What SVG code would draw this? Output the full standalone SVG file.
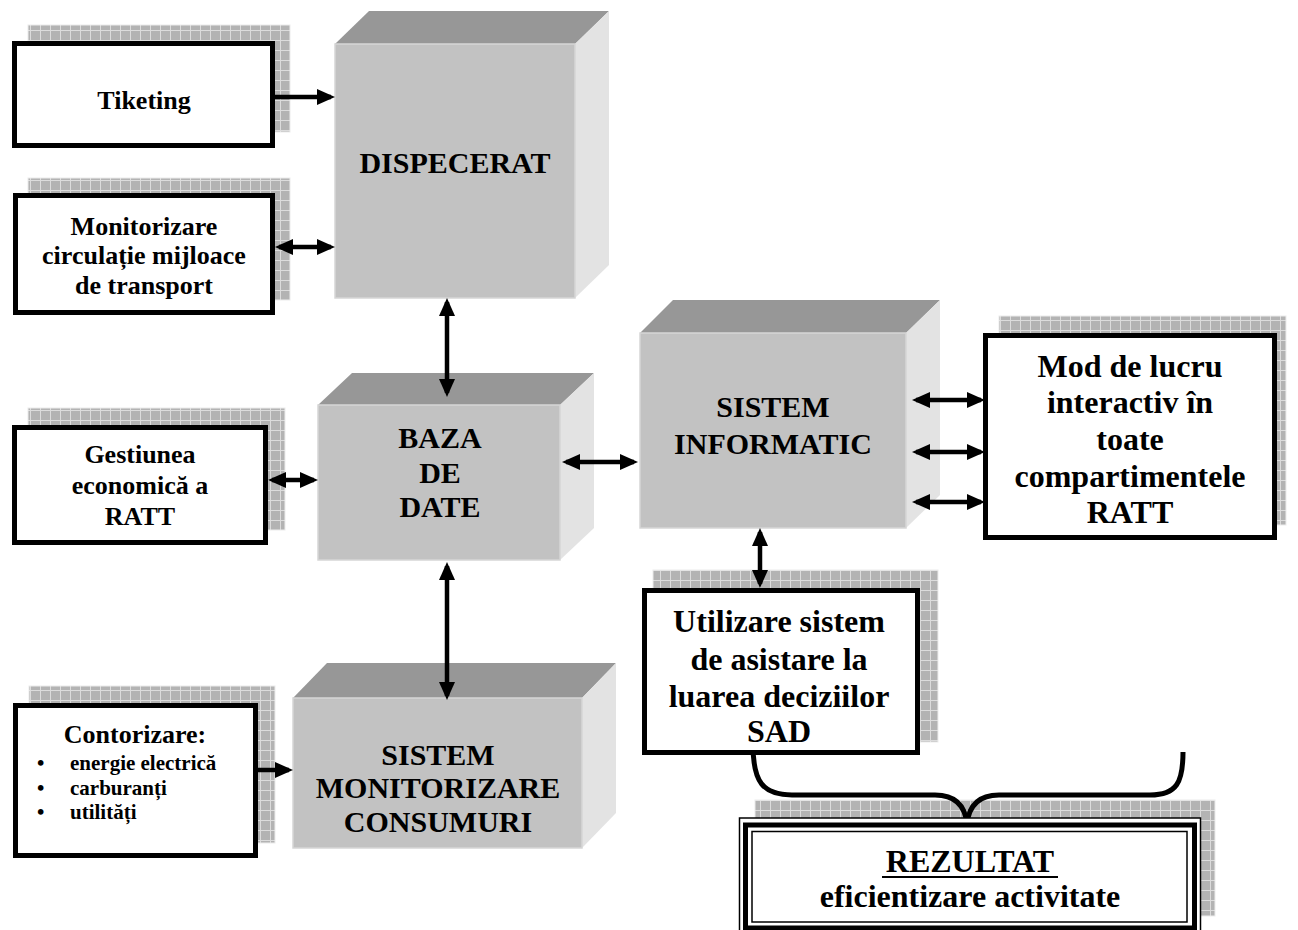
<svg xmlns="http://www.w3.org/2000/svg" width="1298" height="930" viewBox="0 0 1298 930">
  <defs>
    <pattern id="grid" width="10" height="10" patternUnits="userSpaceOnUse">
      <rect width="10" height="10" fill="#b3b3b3"/>
      <path d="M0,0.5 H10 M0.5,0 V10" stroke="#dcdcdc" stroke-width="1"/>
    </pattern>
    <marker id="head" markerUnits="userSpaceOnUse" markerWidth="20" markerHeight="18" refX="14" refY="8" orient="auto-start-reverse">
      <path d="M0,0 L18,8 L0,16 z" fill="#000"/>
    </marker>
    <style>
      .box { fill:#fff; stroke:#000; stroke-width:5; }
      .sh { fill:url(#grid); stroke:#ececec; stroke-width:1; }
      .front { fill:#c2c2c2; stroke:#d6d6d6; stroke-width:1.5; }
      .top { fill:#979797; }
      .side { fill:#e3e3e3; }
      .t { font-family:"Liberation Serif","Times New Roman",serif; font-weight:bold; text-anchor:middle; fill:#000; }
      .s26 { font-size:26px; }
      .s30 { font-size:30px; }
      .s32 { font-size:32px; }
      .s21 { font-size:21px; text-anchor:start; }
      .ar { stroke:#000; stroke-width:4.5; fill:none; }
      .one { marker-end:url(#head); }
      .two { marker-start:url(#head); marker-end:url(#head); }
    </style>
  </defs>

  <!-- Tiketing -->
  <g id="tiketing">
    <rect class="sh" x="28" y="25" width="262" height="107"/>
    <rect class="box" x="14.5" y="43.5" width="258" height="102"/>
    <text class="t s26" x="144" y="109">Tiketing</text>
  </g>

  <!-- Monitorizare circulatie -->
  <g id="monitorizare">
    <rect class="sh" x="28" y="178" width="262" height="122"/>
    <rect class="box" x="15.5" y="195.5" width="257" height="117"/>
    <text class="t s26" x="144" y="235">Monitorizare</text>
    <text class="t s26" x="144" y="264">circulație mijloace</text>
    <text class="t s26" x="144" y="294">de transport</text>
  </g>

  <!-- DISPECERAT cube -->
  <g id="dispecerat">
    <polygon class="top" points="335,44 369,11 609,11 575,44"/>
    <polygon class="side" points="575,44 609,11 609,265 575,298"/>
    <rect class="front" x="335" y="44" width="240" height="254"/>
    <text class="t s30" x="455" y="173">DISPECERAT</text>
  </g>

  <!-- Gestiunea economica -->
  <g id="gestiunea">
    <rect class="sh" x="28" y="408" width="257" height="122"/>
    <rect class="box" x="14.5" y="427.5" width="251" height="115"/>
    <text class="t s26" x="140" y="463">Gestiunea</text>
    <text class="t s26" x="140" y="494">economică a</text>
    <text class="t s26" x="140" y="525">RATT</text>
  </g>

  <!-- BAZA DE DATE cube -->
  <g id="baza">
    <polygon class="top" points="318,405 352,373 594,373 560,405"/>
    <polygon class="side" points="560,405 594,373 594,528 560,560"/>
    <rect class="front" x="318" y="405" width="242" height="155"/>
    <text class="t s30" x="440" y="448">BAZA</text>
    <text class="t s30" x="440" y="483">DE</text>
    <text class="t s30" x="440" y="517">DATE</text>
  </g>

  <!-- SISTEM INFORMATIC cube -->
  <g id="sistem-informatic">
    <polygon class="top" points="640,333 673,300 940,300 906,333"/>
    <polygon class="side" points="906,333 940,300 940,495 906,528"/>
    <rect class="front" x="640" y="333" width="266" height="195"/>
    <text class="t s30" x="773" y="417">SISTEM</text>
    <text class="t s30" x="773" y="454">INFORMATIC</text>
  </g>

  <!-- Mod de lucru -->
  <g id="mod-lucru">
    <rect class="sh" x="999" y="316" width="287" height="209"/>
    <rect class="box" x="985.5" y="335.5" width="289" height="202"/>
    <text class="t s32" x="1130" y="377">Mod de lucru</text>
    <text class="t s32" x="1130" y="413">interactiv în</text>
    <text class="t s32" x="1130" y="450">toate</text>
    <text class="t s32" x="1130" y="487">compartimentele</text>
    <text class="t s32" x="1130" y="523">RATT</text>
  </g>

  <!-- SISTEM MONITORIZARE CONSUMURI cube -->
  <g id="sistem-monitorizare">
    <polygon class="top" points="293,698 327,663 616,663 582,698"/>
    <polygon class="side" points="582,698 616,663 616,813 582,848"/>
    <rect class="front" x="293" y="698" width="289" height="150"/>
    <text class="t s30" x="438" y="765">SISTEM</text>
    <text class="t s30" x="438" y="798">MONITORIZARE</text>
    <text class="t s30" x="438" y="832">CONSUMURI</text>
  </g>

  <!-- Contorizare -->
  <g id="contorizare">
    <rect class="sh" x="29" y="686" width="246" height="157"/>
    <rect class="box" x="15.5" y="705.5" width="240" height="150"/>
    <text class="t s26" x="135" y="743">Contorizare:</text>
    <text class="t s21" x="37" y="770">•</text>
    <text class="t s21" x="70" y="770">energie electrică</text>
    <text class="t s21" x="37" y="795">•</text>
    <text class="t s21" x="70" y="795">carburanți</text>
    <text class="t s21" x="37" y="819">•</text>
    <text class="t s21" x="70" y="819">utilități</text>
  </g>

  <!-- REZULTAT shadow sits beneath the brace -->
  <g id="rezultat-shadow">
    <rect class="sh" x="755" y="800" width="460" height="116"/>
  </g>

  <!-- Brace grouping the decision support and interactive work -->
  <g id="brace">
    <path d="M753,745 C753,782 763,795 792,795 L935,795 C955,795 965,805 967,824 C969,805 979,795 999,795 L1150,795 C1177,795 1183,782 1183,752" fill="none" stroke="#000" stroke-width="5"/>
  </g>

  <!-- Utilizare sistem SAD -->
  <g id="utilizare">
    <rect class="sh" x="653" y="570" width="285" height="172"/>
    <rect class="box" x="644.5" y="590.5" width="273" height="162"/>
    <text class="t s32" x="779" y="632">Utilizare sistem</text>
    <text class="t s32" x="779" y="670">de asistare la</text>
    <text class="t s32" x="779" y="707">luarea deciziilor</text>
    <text class="t s32" x="779" y="742">SAD</text>
  </g>

  <!-- REZULTAT -->
  <g id="rezultat">
    <rect x="739.5" y="818" width="461" height="116" fill="#fff" stroke="#000" stroke-width="1.5"/>
    <rect x="745.5" y="825" width="449" height="103" fill="none" stroke="#000" stroke-width="5"/>
    <rect x="752" y="831.5" width="435" height="90.5" fill="none" stroke="#000" stroke-width="1.5"/>
    <text class="t s32" x="970" y="872">REZULTAT</text>
    <line x1="882" y1="877" x2="1058" y2="877" stroke="#000" stroke-width="2"/>
    <text class="t s32" x="970" y="907">eficientizare activitate</text>
  </g>

  <!-- Connectors -->
  <g id="connectors">
    <line class="ar one" x1="275" y1="97" x2="331" y2="97"/>
    <line class="ar two" x1="279" y1="247" x2="331" y2="247"/>
    <line class="ar two" x1="447" y1="302" x2="447" y2="393"/>
    <line class="ar two" x1="272" y1="480" x2="314" y2="480"/>
    <line class="ar two" x1="566" y1="462" x2="634" y2="462"/>
    <line class="ar two" x1="447" y1="566" x2="447" y2="696"/>
    <line class="ar one" x1="258" y1="770" x2="289" y2="770"/>
    <line class="ar two" x1="916" y1="400" x2="981" y2="400"/>
    <line class="ar two" x1="916" y1="452" x2="981" y2="452"/>
    <line class="ar two" x1="916" y1="502" x2="981" y2="502"/>
    <line class="ar two" x1="760" y1="532" x2="760" y2="584"/>
  </g>
</svg>
